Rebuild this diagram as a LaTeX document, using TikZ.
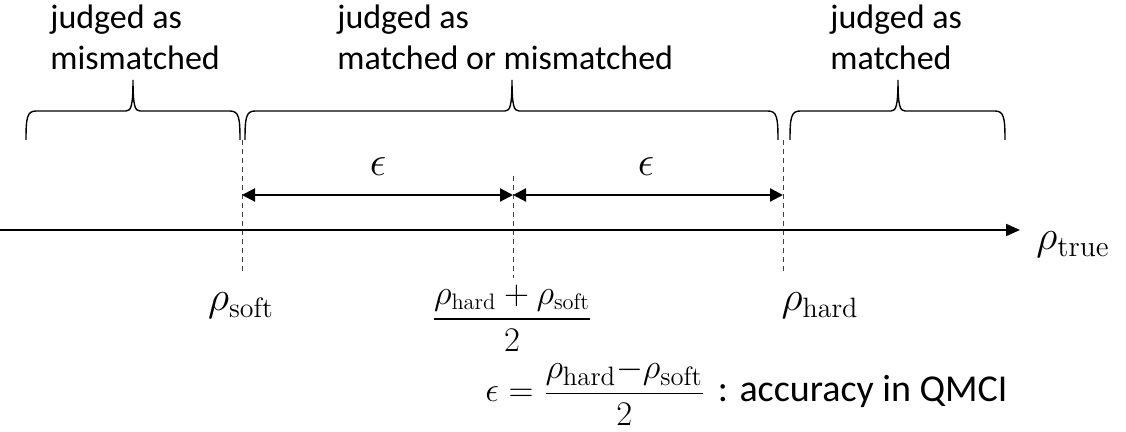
\documentclass[tikz,border=0pt]{standalone}
\usepackage{fontspec}
\usepackage{amsmath}
\usetikzlibrary{arrows.meta}
\newfontfamily\calibri{Carlito}

\begin{document}
\begin{tikzpicture}[x=0.5pt,y=-0.5pt,
    judge/.style={font=\calibri\fontsize{17}{20.5}\selectfont, align=left, anchor=north west, inner sep=0pt},
    rholabel/.style={font=\fontsize{20}{24}\selectfont, inner sep=0pt},
    brace/.style={line width=0.7pt},
    guide/.style={dash pattern=on 2.5pt off 2pt, line width=0.5pt, black!75},
    epsarrow/.style={line width=1.1pt, {Triangle[length=6.5pt,width=6.5pt]}-{Triangle[length=6.5pt,width=6.5pt]}},
    axisarrow/.style={line width=1pt, -{Triangle[length=7pt,width=6pt]}}]
    \useasboundingbox (0,0) rectangle (1126,432);

    % Regions on the rho axis
    \node[judge] (mismatch) at (50,4) {judged as\\mismatched};
    \node[judge] (either) at (337,4) {judged as\\matched or mismatched};
    \node[judge] (match) at (830,4) {judged as\\matched};

    % Braces under the region labels
    \draw[brace] (26,140) .. controls (26,118) and (27,111) .. (36,111) -- (126,111)
        .. controls (131,111) and (133,106) .. (133,80) .. controls (133,106) and (135,111) .. (140,111)
        -- (230,111) .. controls (239,111) and (240,118) .. (240,140);
    \draw[brace] (245,140) .. controls (245,118) and (246,111) .. (255,111) -- (505,111)
        .. controls (510,111) and (512,106) .. (512,80) .. controls (512,106) and (514,111) .. (519,111)
        -- (768,111) .. controls (777,111) and (778,118) .. (778,140);
    \draw[brace] (790,140) .. controls (790,118) and (791,111) .. (800,111) -- (891,111)
        .. controls (896,111) and (898,106) .. (898,80) .. controls (898,106) and (900,111) .. (905,111)
        -- (995,111) .. controls (1004,111) and (1005,118) .. (1005,140);

    % Thresholds
    \coordinate (softtop) at (242,140);
    \coordinate (softbot) at (242,273);
    \coordinate (midtop) at (513,176);
    \coordinate (midbot) at (513,278);
    \coordinate (hardtop) at (783,140);
    \coordinate (hardbot) at (783,273);
    \draw[guide] (softtop) -- (softbot);
    \draw[guide] (midtop) -- (midbot);
    \draw[guide] (hardtop) -- (hardbot);

    % Half widths
    \coordinate (epsL) at (242,195);
    \coordinate (epsM) at (513,195);
    \coordinate (epsR) at (783,195);
    \draw[epsarrow] (epsL) -- (epsM);
    \draw[epsarrow] (epsM) -- (epsR);
    \node[rholabel] (epsa) at (378,167) {$\epsilon$};
    \node[rholabel] (epsb) at (646,167) {$\epsilon$};

    % Axis
    \coordinate (axisstart) at (0,230);
    \coordinate (axisend) at (1020,230);
    \draw[axisarrow] (axisstart) -- (axisend);
    \node[rholabel, anchor=base west, font=\fontsize{21}{25}\selectfont] (rtrue) at (1036,250) {$\rho_{\mathrm{true}}$};

    % Threshold labels
    \node[rholabel, anchor=base] (rsoft) at (241,311) {$\rho_{\mathrm{soft}}$};
    \node[rholabel, font=\fontsize{16}{19}\selectfont] (rmid) at (512,318)
        {$\dfrac{\rho_{\mathrm{hard}}+\rho_{\mathrm{soft}}}{2}$};
    \node[rholabel, anchor=base] (rhard) at (820,311) {$\rho_{\mathrm{hard}}$};

    % Definition of epsilon
    \node[anchor=base west, inner sep=0pt, font=\calibri\fontsize{19}{22}\selectfont] (epsdef) at (485,402)
        {$\epsilon = \dfrac{\rho_{\mathrm{hard}}{-}\rho_{\mathrm{soft}}}{2}$\,\,: accuracy in QMCI};
\end{tikzpicture}
\end{document}
